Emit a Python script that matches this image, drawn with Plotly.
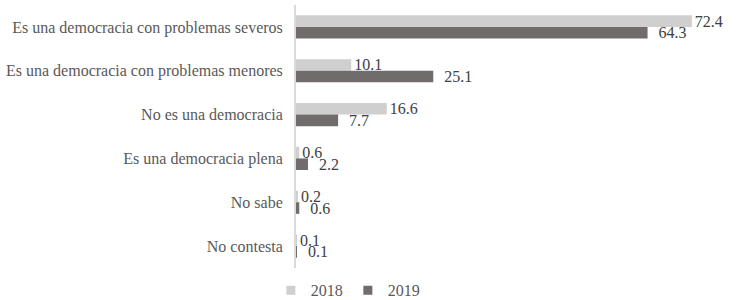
import plotly.graph_objects as go

categories = ["Es una democracia con problemas severos",
              "Es una democracia con problemas menores",
              "No es una democracia",
              "Es una democracia plena",
              "No sabe",
              "No contesta"]
values_2018 = [72.4, 10.1, 16.6, 0.6, 0.2, 0.1]
values_2019 = [64.3, 25.1, 7.7, 2.2, 0.6, 0.1]
series_names = ["2018", "2019"]
colors = ["#d0cfcf", "#706c6b"]
label_prefix = ["", "\u00a0\u00a0"]

FONT = "Liberation Serif, Times New Roman, serif"

fig = go.Figure()
for name, vals, col, pre in zip(series_names, [values_2018, values_2019], colors, label_prefix):
    fig.add_trace(go.Bar(
        y=categories, x=vals, name=name, orientation="h",
        marker=dict(color=col, line=dict(width=0)),
        text=[f"{pre}{v:.1f}" for v in vals], textposition="outside",
        constraintext="none",
        textfont=dict(family=FONT, size=16, color="#404040"),
        cliponaxis=False, showlegend=False,
    ))
    fig.add_trace(go.Scatter(
        x=[None], y=[None], mode="markers", name=name,
        marker=dict(symbol="square", size=9, color=col),
        showlegend=True,
    ))

fig.update_layout(
    width=737, height=300,
    margin=dict(l=296, r=20, t=5, b=32, autoexpand=False),
    paper_bgcolor="white", plot_bgcolor="white",
    barmode="group", bargap=0.47, bargroupgap=0,
    font=dict(family=FONT, size=16, color="#595959"),
    showlegend=True,
    legend=dict(orientation="h", xref="container", x=0.472, xanchor="center",
                yref="paper", y=-0.02, yanchor="top",
                font=dict(family=FONT, size=16, color="#595959"),
                itemwidth=30, traceorder="normal", tracegroupgap=0),
    xaxis=dict(range=[0, 77], visible=False, showgrid=False, zeroline=False,
               automargin=False),
    yaxis=dict(autorange="reversed", showgrid=False, zeroline=False,
               showline=True, linecolor="#d9d9d9", linewidth=2,
               ticks="", ticklabelstandoff=8, automargin=False,
               tickfont=dict(family=FONT, size=16, color="#595959")),
)

fig.write_html("out.html", config={"displayModeBar": False},
               post_script="document.body.style.margin='0';")
